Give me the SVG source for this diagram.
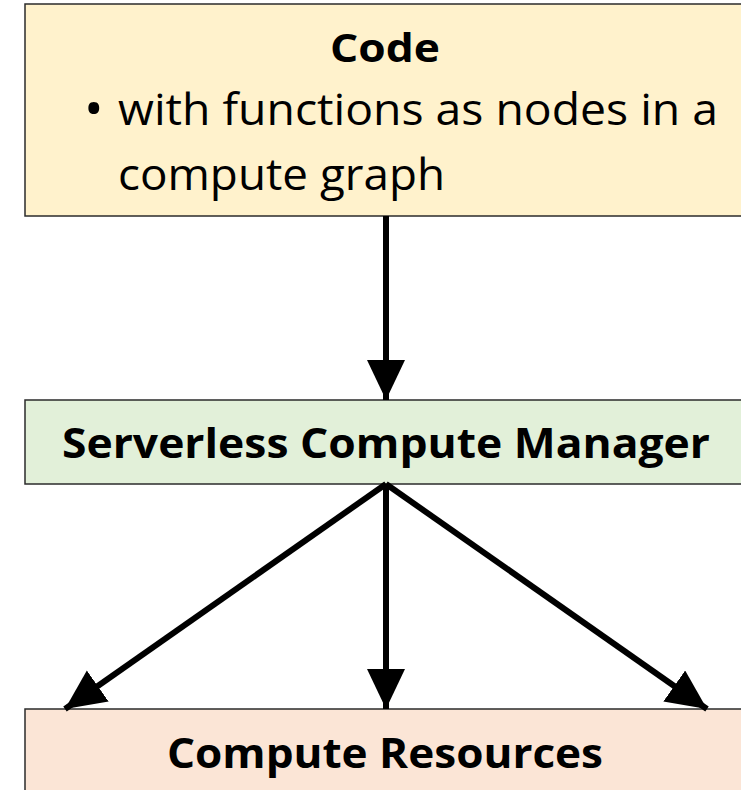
<svg xmlns="http://www.w3.org/2000/svg" width="741" height="790" viewBox="0 0 741 790">
<style>
.box{stroke:#2b2b2b;stroke-width:1.5}
.t{font-family:"Open Sans","Liberation Sans",sans-serif;fill:#000}
.b{font-weight:bold}
.c{stroke:#000;stroke-width:6;fill:none}
</style>
<defs>
<marker id="ah" markerUnits="userSpaceOnUse" markerWidth="42" markerHeight="42" refX="40" refY="19" orient="auto">
<path d="M0,0 L40,19 L0,38 Z" fill="#000"/>
</marker>
</defs>
<g id="code">
<rect class="box" x="25" y="4" width="730" height="212" fill="#fff2cc"/>
<text class="t b" x="385" y="62" font-size="39" text-anchor="middle" textLength="110" lengthAdjust="spacingAndGlyphs">Code</text>
<text class="t" x="84" y="127" font-size="52">•</text>
<text class="t" x="118" y="125" font-size="43" textLength="600" lengthAdjust="spacingAndGlyphs">with functions as nodes in a</text>
<text class="t" x="118" y="190" font-size="43" textLength="327" lengthAdjust="spacingAndGlyphs">compute graph</text>
</g>
<g id="manager">
<rect class="box" x="25" y="400" width="730" height="84" fill="#e2f0d9"/>
<text class="t b" x="386" y="458" font-size="41" text-anchor="middle" textLength="648" lengthAdjust="spacingAndGlyphs">Serverless Compute Manager</text>
</g>
<g id="resources">
<rect class="box" x="25" y="709" width="730" height="100" fill="#fbe5d6"/>
<text class="t b" x="385" y="768" font-size="41" text-anchor="middle" textLength="436" lengthAdjust="spacingAndGlyphs">Compute Resources</text>
</g>
<g id="connectors">
<line class="c" x1="386" y1="216" x2="386" y2="400" marker-end="url(#ah)"/>
<line class="c" x1="386" y1="484" x2="65" y2="709" marker-end="url(#ah)"/>
<line class="c" x1="386" y1="484" x2="386" y2="709" marker-end="url(#ah)"/>
<line class="c" x1="386" y1="484" x2="707" y2="709" marker-end="url(#ah)"/>
</g>
</svg>
